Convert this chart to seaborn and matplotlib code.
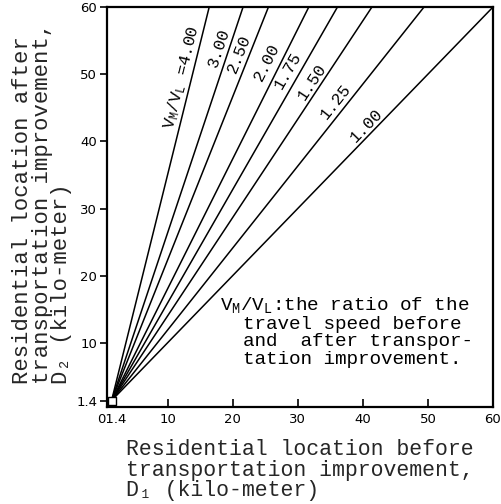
import math

import matplotlib

matplotlib.use("Agg")
import matplotlib.pyplot as plt
import pandas as pd
import seaborn as sns

# Speed ratio V_M / V_L for each line
ratios = ["4.00", "3.00", "2.50", "2.00", "1.75", "1.50", "1.25", "1.00"]

# Every line starts at (1.4, 1.4) and runs out to the frame
start_d1 = 1.4
start_d2 = 1.4
end_d1 = [16.4, 21.6, 25.5, 31.7, 36.1, 41.4, 49.4, 60.0]
end_d2 = [60.0, 60.0, 60.0, 60.0, 60.0, 60.0, 60.0, 60.0]

# Where the ratio labels sit next to each line
label_d1 = [12.2, 17.9, 21.0, 25.3, 28.5, 32.2, 35.9, 40.5]
label_d2 = [49.6, 53.9, 53.0, 51.8, 50.5, 48.8, 46.0, 42.4]
label_texts = [r"$\mathregular{V_M/V_L}$ =4.00"] + ratios[1:]

x_ticks = [1.4, 10, 20, 30, 40, 50, 60]
x_tick_labels = ["01.4", "10", "20", "30", "40", "50", "60"]
y_ticks = [1.4, 10, 20, 30, 40, 50, 60]
y_tick_labels = ["1.4", "10", "20", "30", "40", "50", "60"]

note = (
    r"$\mathregular{V_M/V_L}$:the ratio of the" "\n"
    "  travel speed before\n"
    "  and  after transpor-\n"
    "  tation improvement."
)

sns.set_theme(style="ticks")
plt.rcParams["font.family"] = ["Liberation Mono", "DejaVu Sans"]
plt.rcParams["mathtext.default"] = "regular"

# long table: two points per line
rows = []
for r, x1, y1 in zip(ratios, end_d1, end_d2):
    rows.append({"ratio": r, "D1": start_d1, "D2": start_d2})
    rows.append({"ratio": r, "D1": x1, "D2": y1})
df = pd.DataFrame(rows)

fig, ax = plt.subplots(figsize=(5.01, 5.04), dpi=100)
fig.subplots_adjust(left=0.2136, right=0.984, top=0.986, bottom=0.1925)

sns.lineplot(
    data=df, x="D1", y="D2", units="ratio", estimator=None, sort=False,
    color="black", lw=1.1, ax=ax, legend=False,
)
# small open square at the common origin
sns.scatterplot(
    x=[start_d1], y=[start_d2], marker="s", s=28, facecolor="white",
    edgecolor="black", linewidth=1.0, ax=ax, zorder=5, clip_on=False,
)

ax.set_xlim(0.7, 60)
ax.set_ylim(0.45, 60)

ax.set_xticks(x_ticks)
ax.set_xticklabels(x_tick_labels, fontfamily="DejaVu Sans", fontsize=9.5)
ax.set_yticks(y_ticks)
ax.set_yticklabels(y_tick_labels, fontfamily="DejaVu Sans", fontsize=9.5)
ax.tick_params(axis="x", direction="in", length=6, width=1.2, pad=4, colors="black")
ax.tick_params(axis="y", direction="out", length=5, width=1.2, pad=2, colors="black")

for s in ax.spines.values():
    s.set_visible(True)
    s.set_linewidth(1.6)
    s.set_color("black")

# rotate each label to the slope of its line on screen
for i, txt in enumerate(label_texts):
    p0 = ax.transData.transform((start_d1, start_d2))
    p1 = ax.transData.transform((end_d1[i], end_d2[i]))
    ang = math.degrees(math.atan2(p1[1] - p0[1], p1[0] - p0[0]))
    ax.text(label_d1[i], label_d2[i], txt, rotation=ang, rotation_mode="anchor",
            ha="center", va="center", fontsize=12, color="black")

ax.text(0.293, 0.28, note, transform=ax.transAxes, ha="left", va="top",
        fontsize=13.9, linespacing=1.05, color="black")

ax.set_xlabel(
    "Residential location before\ntransportation improvement,\n"
    "D\u2081 (kilo-meter)",
    fontsize=15.5, multialignment="left", linespacing=0.95, labelpad=10,
)
ax.set_ylabel(
    "Residential location after\ntransportation improvement,\n"
    "D\u2082 (kilo-meter)",
    fontsize=16, multialignment="left", linespacing=0.9,
)
ax.yaxis.set_label_coords(-0.09, 0.51)

fig.savefig("out.png", dpi=100)
